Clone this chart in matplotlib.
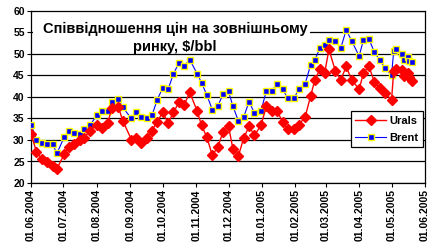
import numpy as np
import pandas as pd
import matplotlib
matplotlib.use("Agg")
import matplotlib.pyplot as plt
import matplotlib.dates as mdates
from matplotlib.patches import Rectangle

plt.rcParams['font.family'] = ['Liberation Sans', 'DejaVu Sans']

# data
dates = ['2004-06-01', '2004-06-06', '2004-06-11', '2004-06-16', '2004-06-21', '2004-06-25',
         '2004-07-02', '2004-07-06', '2004-07-11', '2004-07-16', '2004-07-20', '2004-07-26',
         '2004-08-01', '2004-08-06', '2004-08-11', '2004-08-15', '2004-08-21', '2004-08-25',
         '2004-09-02', '2004-09-06', '2004-09-11', '2004-09-16', '2004-09-21', '2004-09-26',
         '2004-10-01', '2004-10-06', '2004-10-11', '2004-10-16', '2004-10-21', '2004-10-26',
         '2004-11-02', '2004-11-06', '2004-11-11', '2004-11-16', '2004-11-21', '2004-11-26',
         '2004-12-01', '2004-12-05', '2004-12-10', '2004-12-15', '2004-12-20', '2004-12-25',
         '2004-12-31', '2005-01-05', '2005-01-10', '2005-01-15', '2005-01-20', '2005-01-25',
         '2005-01-31', '2005-02-04', '2005-02-10', '2005-02-15', '2005-02-19', '2005-02-24',
         '2005-02-28', '2005-03-04', '2005-03-10', '2005-03-15', '2005-03-20', '2005-03-25',
         '2005-04-01', '2005-04-05', '2005-04-10', '2005-04-15', '2005-04-20', '2005-04-25',
         '2005-05-01', '2005-05-03', '2005-05-05', '2005-05-11', '2005-05-13', '2005-05-16',
         '2005-05-17', '2005-05-20']

urals = [31.5, 27.3, 25.6, 24.9, 24.0, 23.3,
         26.8, 28.4, 29.1, 30.0, 30.5, 32.2,
         33.6, 32.9, 34.0, 37.4, 37.6, 34.5,
         30.1, 30.5, 29.3, 30.5, 32.2, 34.3,
         36.4, 34.0, 36.4, 38.8, 38.2, 41.1,
         36.7, 33.4, 30.6, 26.4, 28.4, 31.9,
         33.2, 28.0, 26.2, 30.4, 33.2, 31.1,
         33.4, 37.8, 36.8, 36.8, 34.2, 32.5,
         32.6, 33.5, 35.4, 40.2, 44.0, 46.6,
         45.5, 51.1, 46.0, 44.0, 47.1, 44.0,
         41.8, 45.6, 47.1, 43.6, 42.1, 40.9,
         39.3, 46.0, 46.4, 46.2, 44.8, 45.5,
         44.6, 43.7]

brent = [33.6, 30.1, 29.2, 29.0, 29.0, 26.9,
         30.8, 32.0, 31.6, 31.3, 32.5, 33.6,
         35.7, 36.7, 36.7, 38.8, 39.5, 37.6,
         35.0, 36.4, 35.4, 35.2, 35.7, 39.4,
         42.1, 41.8, 45.4, 47.9, 47.3, 48.7,
         45.4, 43.3, 40.4, 37.0, 37.9, 40.7,
         41.3, 37.9, 34.5, 35.3, 38.9, 36.3,
         36.7, 41.4, 41.4, 43.1, 41.8, 39.7,
         39.8, 41.9, 43.1, 47.4, 48.7, 51.5,
         52.1, 53.2, 53.0, 51.4, 55.6, 53.1,
         49.5, 53.3, 53.5, 50.5, 48.6, 46.7,
         45.1, 50.6, 51.1, 50.0, 48.6, 49.4,
         48.3, 48.1]

x = pd.to_datetime(dates)

fig = plt.figure(figsize=(4.35, 2.49), dpi=100)
ax = fig.add_axes([31 / 435, 66 / 249, 394 / 435, 172 / 249])

ax.plot(x, urals, color='red', lw=1, marker='D', ms=5, mfc='red', mec='red',
        label='Urals', zorder=4)
ax.plot(x, brent, color='blue', lw=0.8, marker='s', ms=5, mfc='blue', mec='yellow',
        mew=1, label='Brent', zorder=3)

ax.set_ylim(20, 60)
ax.set_yticks(np.arange(20, 61, 5))
ax.set_xlim(pd.Timestamp('2004-06-01'), pd.Timestamp('2005-06-01'))
ax.xaxis.set_major_locator(mdates.MonthLocator())
ax.xaxis.set_major_formatter(mdates.DateFormatter('%d.%m.%Y'))
ax.grid(axis='y', color='black', lw=0.9, zorder=1)
ax.set_axisbelow(True)

for lab in ax.get_xticklabels():
    lab.set_rotation(90)
for lab in ax.get_xticklabels() + ax.get_yticklabels():
    lab.set_fontsize(7.5)
    lab.set_fontweight('bold')
ax.tick_params(axis='both', length=3, width=0.8, pad=1.5)

for s in ax.spines.values():
    s.set_linewidth(0.9)

# title box inside the plot area
ax.add_patch(Rectangle((0.005, 0.762), 0.703, 0.232, transform=ax.transAxes,
                       facecolor='white', edgecolor='none', zorder=2.5))
ax.text(0.366, 0.842, 'Співвідношення цін на зовнішньому\nринку, $/bbl',
        transform=ax.transAxes, ha='center', va='center', fontsize=10.5,
        fontweight='bold', linespacing=1.35, zorder=5)

leg = ax.legend(loc='upper left', bbox_to_anchor=(0.797, 0.448),
                prop={'weight': 'bold', 'size': 8}, fancybox=False, framealpha=1,
                edgecolor='black', handlelength=2.8, borderpad=0.4, labelspacing=0.6,
                handletextpad=0.3)
leg.get_frame().set_linewidth(0.9)

fig.savefig('out.png', dpi=100)
